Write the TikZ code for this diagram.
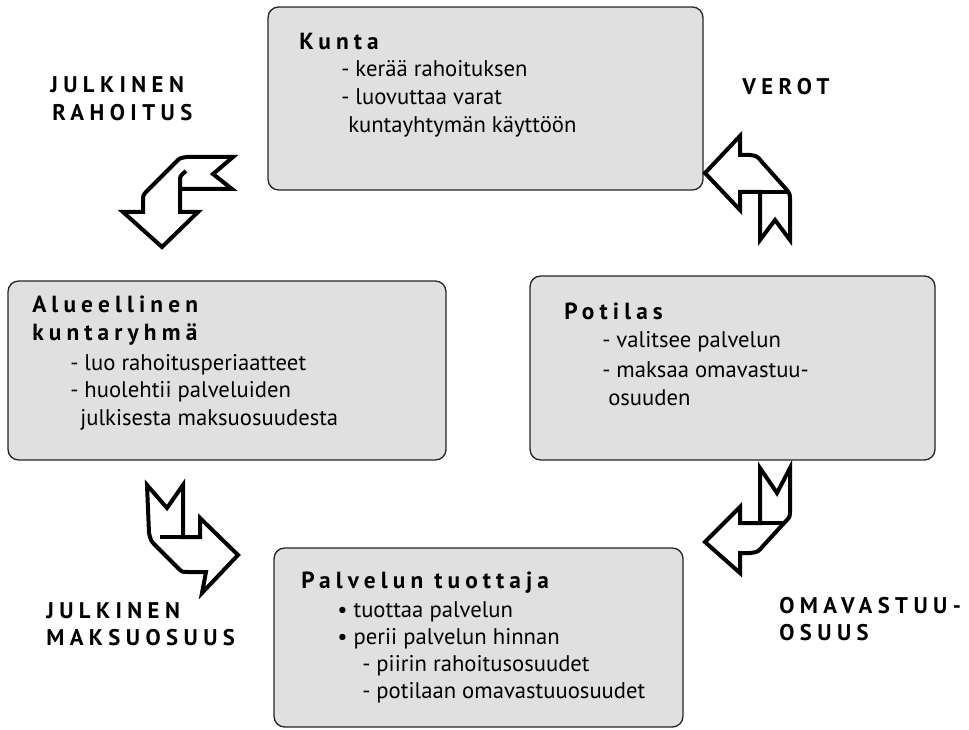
\documentclass[tikz,border=0pt]{standalone}
\usepackage{fontspec}
\setmainfont{PT Sans}
\newfontfamily\headfont[LetterSpace=22]{PT Sans Bold}
\newfontfamily\labfont[LetterSpace=24]{PT Sans Bold}
\usetikzlibrary{fit}
\definecolor{boxgray}{RGB}{224,224,224}
\begin{document}
\begin{tikzpicture}[x=0.75pt,y=-0.75pt,
  box/.style={draw=black!85, line width=1pt, rounded corners=8pt, fill=boxgray, inner sep=0pt},
  txt/.style={anchor=base west, inner sep=0pt, font=\fontsize{17}{20}\selectfont},
  head/.style={anchor=base west, inner sep=0pt, font=\headfont\fontsize{17.5}{20}\selectfont},
  lab/.style={anchor=base west, inner sep=0pt, font=\labfont\fontsize{17}{20}\selectfont},
  ribbon/.style={draw=black, fill=white, line width=3pt, line join=miter},
  fold/.style={line width=3pt}]
\useasboundingbox (0,0) rectangle (969,730);
\fill[white] (0,0) rectangle (969,730);

% boxes
\node[box, fit={(268,7) (703,190)}] (kunta) {};
\node[box, fit={(8,281) (446,460)}] (alue) {};
\node[box, fit={(530,276) (935,460)}] (potilas) {};
\node[box, fit={(274,548) (683,727)}] (tuottaja) {};

% Kunta
\node[head] (k0) at (299,50) {Kunta};
\node[txt] (k1) at (341,77) {- kerää rahoituksen};
\node[txt] (k2) at (341,105) {- luovuttaa varat};
\node[txt] (k3) at (348,133) {kuntayhtymän käyttöön};

% Alueellinen
\node[head] (a0) at (32,313) {Alueellinen};
\node[head] (a1) at (32,340) {kuntaryhmä};
\node[txt] (a2) at (70,370) {- luo rahoitusperiaatteet};
\node[txt] (a3) at (70,397) {- huolehtii palveluiden};
\node[txt] (a4) at (80,425) {julkisesta maksuosuudesta};

% Potilas
\node[head] (p0) at (564,320) {Potilas};
\node[txt] (p1) at (602,348) {- valitsee palvelun};
\node[txt] (p2) at (602,377) {- maksaa omavastuu-};
\node[txt] (p3) at (608,405) {osuuden};

% Palvelun tuottaja
\node[head] (t0) at (301,588) {Palvelun tuottaja};
\node[txt] (t1) at (337,617) {\textbullet\ tuottaa palvelun};
\node[txt] (t2) at (337,644) {\textbullet\ perii palvelun hinnan};
\node[txt] (t3) at (362,671) {- piirin rahoitusosuudet};
\node[txt] (t4) at (362,698) {- potilaan omavastuuosuudet};

% labels
\node[lab] (l1) at (50,93) {JULKINEN};
\node[lab] (l2) at (52,121) {RAHOITUS};
\node[lab] (l3) at (742,95) {VEROT};
\node[lab] (l4) at (46,618) {JULKINEN};
\node[lab] (l5) at (46,645) {MAKSUOSUUS};
\node[lab] (l6) at (779,613) {OMAVASTUU-};
\node[lab] (l7) at (779,640) {OSUUS};

% ribbon arrows
% 1: Kunta -> Alueellinen
\draw[ribbon] (233,157) -- (213,174) -- (232,189) -- (180,189) -- (180,212) -- (198,212)
  -- (162,247) -- (123,212) -- (143,212) -- (143,201) .. controls (143,195) .. (148,190)
  -- (177,161) .. controls (180,158) .. (187,157) -- cycle;
\draw[fold] (180,189) -- (180,181) .. controls (180,176) .. (186,171);

% 2: Potilas -> Kunta
\draw[ribbon] (705,173) -- (740,136) -- (740,155) -- (750,155) .. controls (757,156) .. (762,162)
  -- (786,189) .. controls (790,194) .. (790,201) -- (790,240) -- (775,220) -- (760,240)
  -- (760,192) -- (740,192) -- (740,210) -- cycle;
\draw[fold] (760,192) -- (787,192);

% 3: Alueellinen -> Palvelun tuottaja
\draw[ribbon] (147,485) -- (167,508) -- (183,485) -- (183,537) -- (200,537) -- (200,518)
  -- (238,555) -- (202,593) -- (206,572) -- (188,572) .. controls (182,572) .. (178,568)
  -- (156,546) .. controls (151,541) .. (149,533) -- cycle;
\draw[fold] (183,537) -- (160,537);

% 4: Potilas -> Palvelun tuottaja
\draw[ribbon] (760,468) -- (777,493) -- (790,468) -- (790,510) .. controls (790,517) .. (785,522)
  -- (763,546) .. controls (758,552) .. (750,553) -- (740,553) -- (740,573) -- (705,542)
  -- (740,507) -- (740,523) -- (760,523) -- cycle;
\draw[fold] (760,523) -- (785,523);
\end{tikzpicture}
\end{document}
